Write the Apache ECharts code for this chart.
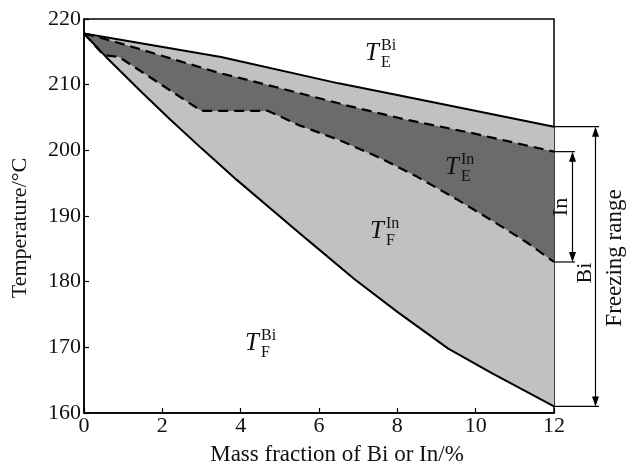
<!DOCTYPE html>
<html>
<head>
<meta charset="utf-8">
<script src="https://cdn.jsdelivr.net/npm/echarts@6/dist/echarts.min.js"></script>
<style>
  html, body { margin: 0; padding: 0; background: #fff; }
  #chart { width: 636px; height: 469px; }
</style>
</head>
<body>
<div id="chart"></div>
<script>
// Boundary temperatures (°C) against mass fraction of Bi or In (%)
const teBi = [[0, 217.8], [3.5, 214.2], [6.5, 210.2], [8.6, 207.7], [12, 203.6]];
const teIn = [[0, 217.8], [0.7, 216.7], [3.5, 211.7], [4.2, 210.7], [6.8, 206.7], [8.2, 204.7], [9.85, 202.7], [12, 199.8]];
const tfIn = [[0, 217.8], [0.5, 214.5], [0.9, 214.2], [3.0, 206.0], [4.7, 206.0], [5.5, 203.8], [6.5, 201.6], [7.5, 199.0], [8.5, 196.0], [9.5, 192.6], [10.5, 189.0], [11.3, 186.0], [12, 183.0]];
const tfBi = [[0, 217.8], [0.55, 214.3], [1.5, 208.7], [2.2, 204.7], [3.0, 200.3], [3.9, 195.5], [5.7, 186.4], [6.9, 180.4], [8.0, 175.4], [9.3, 169.8], [10.4, 166.1], [12, 161.0]];

// Axis ticks
const xTicks = [0, 2, 4, 6, 8, 10, 12];
const yTicks = [160, 170, 180, 190, 200, 210, 220];

const SERIF = '"Liberation Serif", "DejaVu Serif", serif';
const INK = '#111';
const LIGHT = '#c1c1c1';
const DARK = '#6b6b6b';

const last = arr => arr[arr.length - 1];

// Filled band between two boundary curves
function band(upper, lower, color, z) {
  return {
    type: 'custom',
    coordinateSystem: 'cartesian2d',
    silent: true,
    z: z,
    data: [upper[0]],
    renderItem: function (params, api) {
      const pts = upper.concat(lower.slice().reverse()).map(p => api.coord(p));
      return { type: 'polygon', shape: { points: pts }, style: { fill: color } };
    }
  };
}

function curve(data, dashed) {
  return {
    type: 'line',
    data: data,
    showSymbol: false,
    silent: true,
    z: 5,
    lineStyle: { color: '#000', width: dashed ? 2.2 : 2, type: dashed ? [10, 6] : 'solid' }
  };
}

// Arrowhead with its tip at (x, y); dir = -1 points up, 1 points down
function arrowHead(x, y, dir) {
  const len = 10, half = 3.5;
  return {
    type: 'polygon',
    shape: { points: [[x, y], [x - half, y - dir * len], [x + half, y - dir * len]] },
    style: { fill: '#000' }
  };
}

function hLine(x1, x2, y) {
  return { type: 'line', shape: { x1: x1, y1: y, x2: x2, y2: y }, style: { stroke: '#000', lineWidth: 1.2 } };
}
function vLine(x, y1, y2) {
  return { type: 'line', shape: { x1: x, y1: y1, x2: x, y2: y2 }, style: { stroke: '#000', lineWidth: 1.2 } };
}

// Dimension brackets at the right edge: In range and full freezing range
const brackets = {
  type: 'custom',
  coordinateSystem: 'cartesian2d',
  silent: true,
  z: 6,
  clip: false,
  data: [[last(xTicks), last(teBi)[1]]],
  renderItem: function (params, api) {
    const xEnd = last(xTicks);
    const fTop = api.coord([xEnd, last(teBi)[1]]);
    const fBot = api.coord([xEnd, last(tfBi)[1]]);
    const iTop = api.coord([xEnd, last(teIn)[1]]);
    const iBot = api.coord([xEnd, last(tfIn)[1]]);
    const x0 = fTop[0];
    const fx = x0 + 41.5, ix = x0 + 18.5;
    return {
      type: 'group',
      children: [
        hLine(x0, x0 + 45, fTop[1]),
        hLine(x0, x0 + 45, fBot[1]),
        vLine(fx, fTop[1] + 2, fBot[1] - 2),
        arrowHead(fx, fTop[1], -1),
        arrowHead(fx, fBot[1], 1),
        hLine(x0, x0 + 21, iTop[1]),
        hLine(x0, x0 + 21, iBot[1]),
        vLine(ix, iTop[1] + 2, iBot[1] - 2),
        arrowHead(ix, iTop[1], -1),
        arrowHead(ix, iBot[1], 1)
      ]
    };
  }
};

function txt(x, y, text, size, opts) {
  opts = opts || {};
  return {
    type: 'text',
    x: x, y: y,
    rotation: opts.rotation || 0,
    z: 10,
    silent: true,
    style: {
      text: text,
      font: (opts.italic ? 'italic ' : '') + size + 'px ' + SERIF,
      fill: INK,
      align: opts.align || 'center',
      verticalAlign: 'middle'
    }
  };
}

// T with superscript and subscript, centred on (cx, cy)
function tLabel(cx, cy, sup, sub) {
  return [
    txt(cx, cy, 'T', 25, { italic: true }),
    txt(cx + 9, cy - 7, sup, 16, { align: 'left' }),
    txt(cx + 9, cy + 10, sub, 16, { align: 'left' })
  ];
}

const chart = echarts.init(document.getElementById('chart'), null, { renderer: 'canvas' });
chart.setOption({
  animation: false,
  backgroundColor: '#fff',
  grid: {
    left: 84, right: 82, top: 19, bottom: 56,
    show: true, borderColor: '#000', borderWidth: 1.5, backgroundColor: 'transparent'
  },
  xAxis: {
    type: 'value',
    min: xTicks[0], max: last(xTicks), interval: xTicks[1] - xTicks[0],
    axisLine: { lineStyle: { color: '#000', width: 1.5 } },
    axisTick: { inside: true, length: 5, lineStyle: { color: '#000', width: 1.2 } },
    axisLabel: { color: INK, fontFamily: SERIF, fontSize: 22, margin: 2 },
    splitLine: { show: false }
  },
  yAxis: {
    type: 'value',
    min: yTicks[0], max: last(yTicks), interval: yTicks[1] - yTicks[0],
    axisLine: { show: true, lineStyle: { color: '#000', width: 1.5 } },
    axisTick: { show: true, inside: true, length: 5, lineStyle: { color: '#000', width: 1.2 } },
    axisLabel: { color: INK, fontFamily: SERIF, fontSize: 22, margin: 3 },
    splitLine: { show: false }
  },
  series: [
    band(teBi, tfBi, LIGHT, 1),
    band(teIn, tfIn, DARK, 2),
    curve(teBi, false),
    curve(tfBi, false),
    curve(teIn, true),
    curve(tfIn, true),
    brackets
  ],
  graphic: [
    txt(337, 455, 'Mass fraction of Bi or In/%', 23),
    txt(20, 228, 'Temperature/°C', 22, { rotation: Math.PI / 2 }),
    txt(561, 207, 'In', 22, { rotation: Math.PI / 2 }),
    txt(585, 273, 'Bi', 22, { rotation: Math.PI / 2 }),
    txt(615, 258, 'Freezing range', 23, { rotation: Math.PI / 2 })
  ]
    .concat(tLabel(372, 53, 'Bi', 'E'))
    .concat(tLabel(452, 167, 'In', 'E'))
    .concat(tLabel(377, 231, 'In', 'F'))
    .concat(tLabel(252, 343, 'Bi', 'F'))
});
</script>
</body>
</html>
